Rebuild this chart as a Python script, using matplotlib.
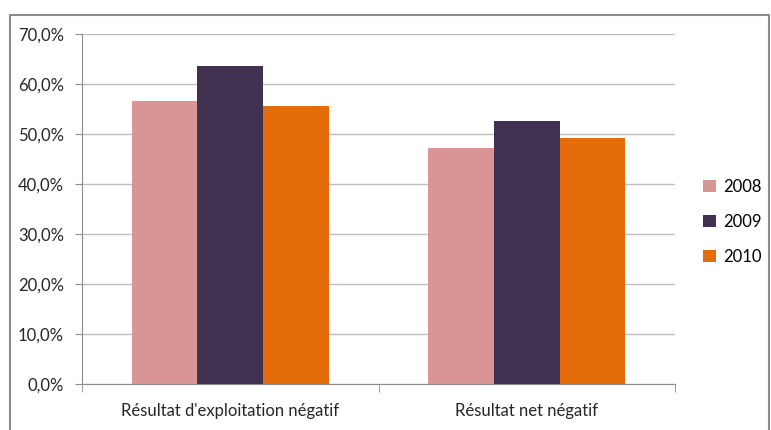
import matplotlib
matplotlib.use("Agg")
import matplotlib.pyplot as plt
from matplotlib.patches import Rectangle, Patch
from matplotlib.ticker import FixedLocator, FuncFormatter

categories = ["Résultat d'exploitation négatif", "Résultat net négatif"]
years = ["2008", "2009", "2010"]
values_2008 = [56.6, 47.2]
values_2009 = [63.7, 52.7]
values_2010 = [55.6, 49.2]
colors = ["#D99594", "#403151", "#E46C0A"]

plt.rcParams['font.family'] = ['Lato', 'DejaVu Sans']

fig = plt.figure(figsize=(7.71, 4.30), dpi=100)
ax = fig.add_axes([82/771, 1 - 384/430, (675 - 82)/771, (384 - 34)/430])

# outer chart frame
fig.patches.append(Rectangle((10/771, -0.05), 759/771, 1.05 - 15/430,
                             transform=fig.transFigure, fill=False,
                             edgecolor="#8c8c8c", linewidth=1.5))

series = [values_2008, values_2009, values_2010]
w = 0.222
for i, (vals, c, yr) in enumerate(zip(series, colors, years)):
    xs = [k + (i - 1) * w for k in range(len(categories))]
    ax.bar(xs, vals, width=w, color=c, label=yr, zorder=3)

ax.set_xlim(-0.5, 1.5)
ax.set_ylim(0, 70)
ax.yaxis.set_major_locator(FixedLocator(range(0, 71, 10)))
ax.yaxis.set_major_formatter(FuncFormatter(lambda v, p: f"{v:.1f}%".replace(".", ",")))
ax.grid(axis="y", color="#bfbfbf", linewidth=1, zorder=0)
ax.set_xticks([0, 1])
ax.set_xticklabels(categories)
ax.xaxis.set_minor_locator(FixedLocator([-0.5, 0.5, 1.5]))
ax.tick_params(axis="x", which="major", length=0, pad=14, labelsize=12, colors="#262626")
ax.tick_params(axis="x", which="minor", length=6, color="#8c8c8c")
ax.tick_params(axis="y", length=5, color="#8c8c8c", labelsize=12, labelcolor="#262626", pad=8)
for s in ["top", "right"]:
    ax.spines[s].set_visible(False)
for s in ["left", "bottom"]:
    ax.spines[s].set_color("#8c8c8c")

handles = [Patch(facecolor=c, label=y) for c, y in zip(colors, years)]
fig.legend(handles=handles, loc="center left", bbox_to_anchor=(688/771, 1 - 222/430),
           frameon=False, fontsize=12, handlelength=0.75, handleheight=0.75,
           labelspacing=1.15, handletextpad=0.45)

fig.savefig("out.png", dpi=100)
